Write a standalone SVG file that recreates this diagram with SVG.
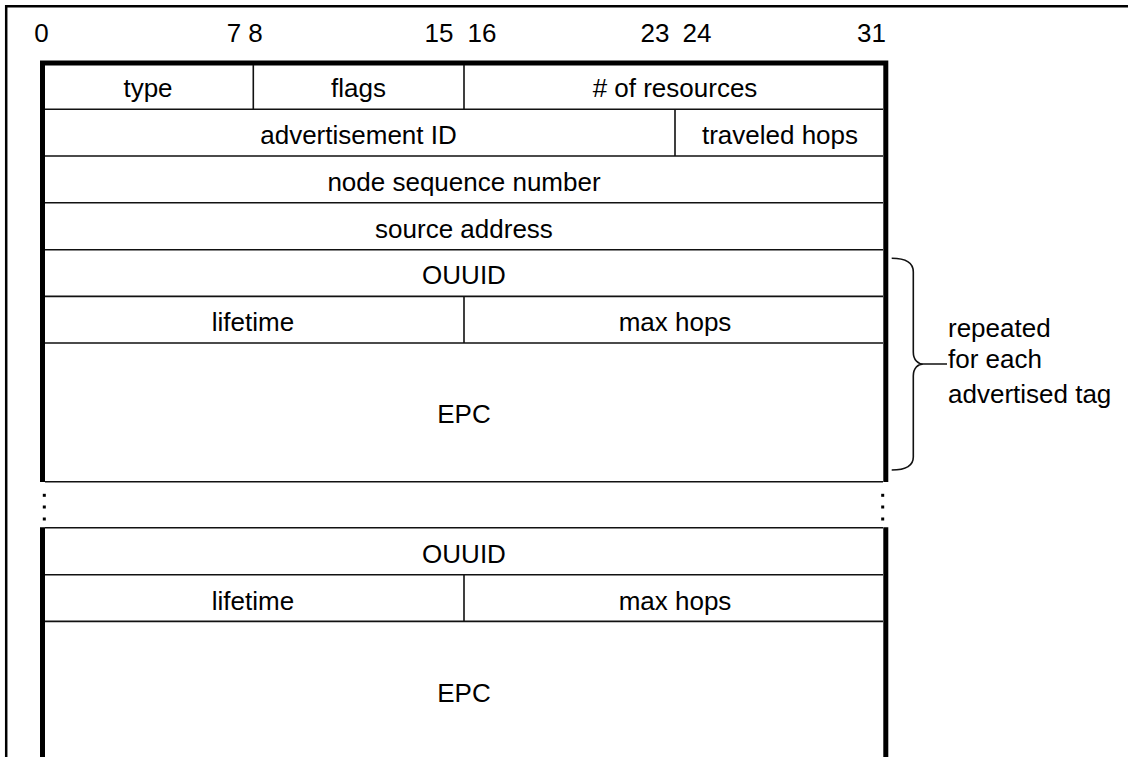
<svg xmlns="http://www.w3.org/2000/svg" width="1128" height="757" viewBox="0 0 1128 757">
<style>
text{font-family:"Liberation Sans",Arial,sans-serif;font-size:26px;fill:#000}
.m{text-anchor:middle}
.thin{stroke:#111;stroke-width:1.6;fill:none}
.thick{stroke:#000;stroke-width:5;fill:none}
.frame{stroke:#000;stroke-width:2.5;fill:none}
</style>
<rect width="1128" height="757" fill="#fff"/>
<g id="frame"><path class="frame" d="M6.2,757 V6.2 H1128"/></g>
<g id="bit-numbers">
<text class="m" x="41.5" y="42">0</text>
<text class="m" x="234" y="42">7</text>
<text class="m" x="255.5" y="42">8</text>
<text class="m" x="439" y="42">15</text>
<text class="m" x="482" y="42">16</text>
<text class="m" x="655" y="42">23</text>
<text class="m" x="697" y="42">24</text>
<text class="m" x="871.5" y="42">31</text>
</g>
<g id="header">
<path class="thick" d="M42.5,482 V63 H885.8 V482"/>
<path class="thin" d="M45,109.3 H883 M45,156 H883 M45,202.8 H883 M45,249.7 H883 M45,296.4 H883 M45,343 H883 M45,481.7 H883"/>
<path class="thin" d="M253.3,65 V109.3 M464,65 V109.3 M675,109.3 V156 M464,296.4 V343"/>
</g>
<g id="row1">
<text class="m" x="148" y="97">type</text>
<text class="m" x="358.5" y="97">flags</text>
<text class="m" x="675" y="97">#&#160;of resources</text>
</g>
<g id="row2">
<text class="m" x="358.5" y="144">advertisement ID</text>
<text class="m" x="780" y="144">traveled hops</text>
</g>
<g id="row3"><text class="m" x="464" y="191">node sequence number</text></g>
<g id="row4"><text class="m" x="464" y="238">source address</text></g>
<g id="tag1">
<text class="m" x="464" y="284">OUUID</text>
<text class="m" x="253" y="331">lifetime</text>
<text class="m" x="675" y="331">max hops</text>
<text class="m" x="464" y="423">EPC</text>
</g>
<g id="dots" fill="#000">
<rect x="42.8" y="493.8" width="3" height="3"/>
<rect x="42.8" y="505.5" width="3" height="3"/>
<rect x="42.8" y="517.5" width="3" height="3"/>
<rect x="881.2" y="493.8" width="3" height="3"/>
<rect x="881.2" y="505.5" width="3" height="3"/>
<rect x="881.2" y="517.5" width="3" height="3"/>
</g>
<g id="tag2">
<path class="thick" d="M42.5,527.3 V757 M885.8,527.3 V757"/>
<path class="thin" d="M45,527.8 H883 M45,574.7 H883 M45,621.4 H883 M464,574.7 V621.4"/>
<text class="m" x="464" y="563">OUUID</text>
<text class="m" x="253" y="610">lifetime</text>
<text class="m" x="675" y="610">max hops</text>
<text class="m" x="464" y="702">EPC</text>
</g>
<g id="connectors">
<path class="thin" d="M891.7,258.3 C905,258.3 913.3,262 913.3,272 V352 C913.3,360 918,364 923.3,364 H947 M923.3,364 C918,364 913.3,368 913.3,376 V457 C913.3,466 905,470 891.7,470"/>
</g>
<g id="note">
<text x="948" y="337">repeated</text>
<text x="948" y="368">for each</text>
<text x="948" y="402.5">advertised tag</text>
</g>
</svg>
